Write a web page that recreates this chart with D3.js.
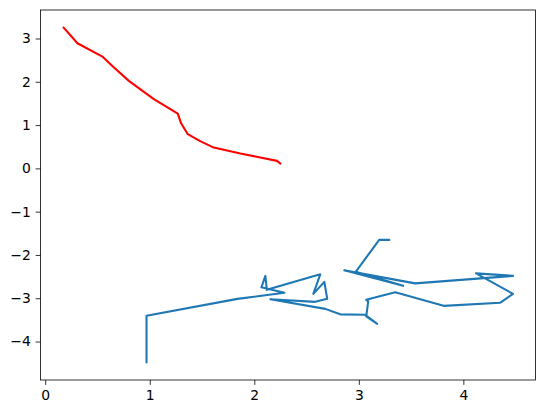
<!DOCTYPE html>
<html><head><meta charset="utf-8">
<script src="https://cdn.jsdelivr.net/npm/d3@7"></script>
<style>body{margin:0;background:#fff}svg{display:block}</style>
</head><body>
<script>
const redX = [0.170,0.308,0.552,0.642,0.800,1.039,1.268,1.301,1.364,1.478,1.612,1.867,2.218,2.256];
const redY = [3.270,2.891,2.575,2.367,2.021,1.598,1.266,1.035,0.790,0.635,0.480,0.342,0.173,0.097];
const blueX = [0.969,0.969,1.839,2.288,2.068,2.106,2.120,2.631,2.565,2.670,2.698,2.583,2.154,2.679,2.822,3.061,3.176,3.071,3.090,3.071,3.348,3.811,4.351,4.475,4.121,4.475,3.539,2.861,3.424,2.970,3.195,3.300];
const blueY = [-4.500,-3.406,-3.014,-2.875,-2.748,-2.483,-2.806,-2.448,-2.898,-2.621,-3.014,-3.083,-3.025,-3.245,-3.372,-3.383,-3.591,-3.418,-3.072,-3.037,-2.864,-3.176,-3.106,-2.898,-2.425,-2.483,-2.656,-2.356,-2.714,-2.390,-1.651,-1.651];
const xTicks = [0,1,2,3,4];
const yTicks = [-4,-3,-2,-1,0,1,2,3];

const W = 546, H = 413;
const L = 40.5, R = 535.5, T = 10, B = 380;
const svg = d3.select("body").append("svg").attr("width", W).attr("height", H);

function padded(arr){
  const mn = d3.min(arr), mx = d3.max(arr), p = (mx - mn) * 0.05;
  return [mn - p, mx + p];
}
const x = d3.scaleLinear().domain(padded(redX.concat(blueX))).range([L, R]);
const y = d3.scaleLinear().domain(padded(redY.concat(blueY))).range([B, T]);

const line = d3.line().x(d => x(d[0])).y(d => y(d[1]));
const blue = blueX.map((v,i) => [v, blueY[i]]);
const red = redX.map((v,i) => [v, redY[i]]);

svg.append("path").datum(red).attr("d", line).attr("fill","none")
  .attr("stroke","#ff0000").attr("stroke-width",2.08).attr("stroke-linejoin","round").attr("stroke-linecap","butt");
svg.append("path").datum(blue).attr("d", line).attr("fill","none")
  .attr("stroke","#1f77b4").attr("stroke-width",2.08).attr("stroke-linejoin","round").attr("stroke-linecap","butt");

const fmt = d => (d < 0 ? "\u2212" + Math.abs(d) : String(d));
const xa = svg.append("g").attr("transform", `translate(0,${B})`)
  .call(d3.axisBottom(x).tickValues(xTicks).tickFormat(fmt).tickSize(4.86).tickPadding(4.86));
const ya = svg.append("g").attr("transform", `translate(${L},0)`)
  .call(d3.axisLeft(y).tickValues(yTicks).tickFormat(fmt).tickSize(4.86).tickPadding(4.86));
[xa, ya].forEach(g => {
  g.select(".domain").remove();
  g.selectAll("line").attr("stroke","#000").attr("stroke-width",0.8);
  g.selectAll("text").attr("fill","#000").style("font-family","DejaVu Sans").style("font-size","13.9px");
});

svg.append("rect").attr("x",L).attr("y",T).attr("width",R-L).attr("height",B-T)
  .attr("fill","none").attr("stroke","#000").attr("stroke-width",0.8);
</script>
</body></html>
